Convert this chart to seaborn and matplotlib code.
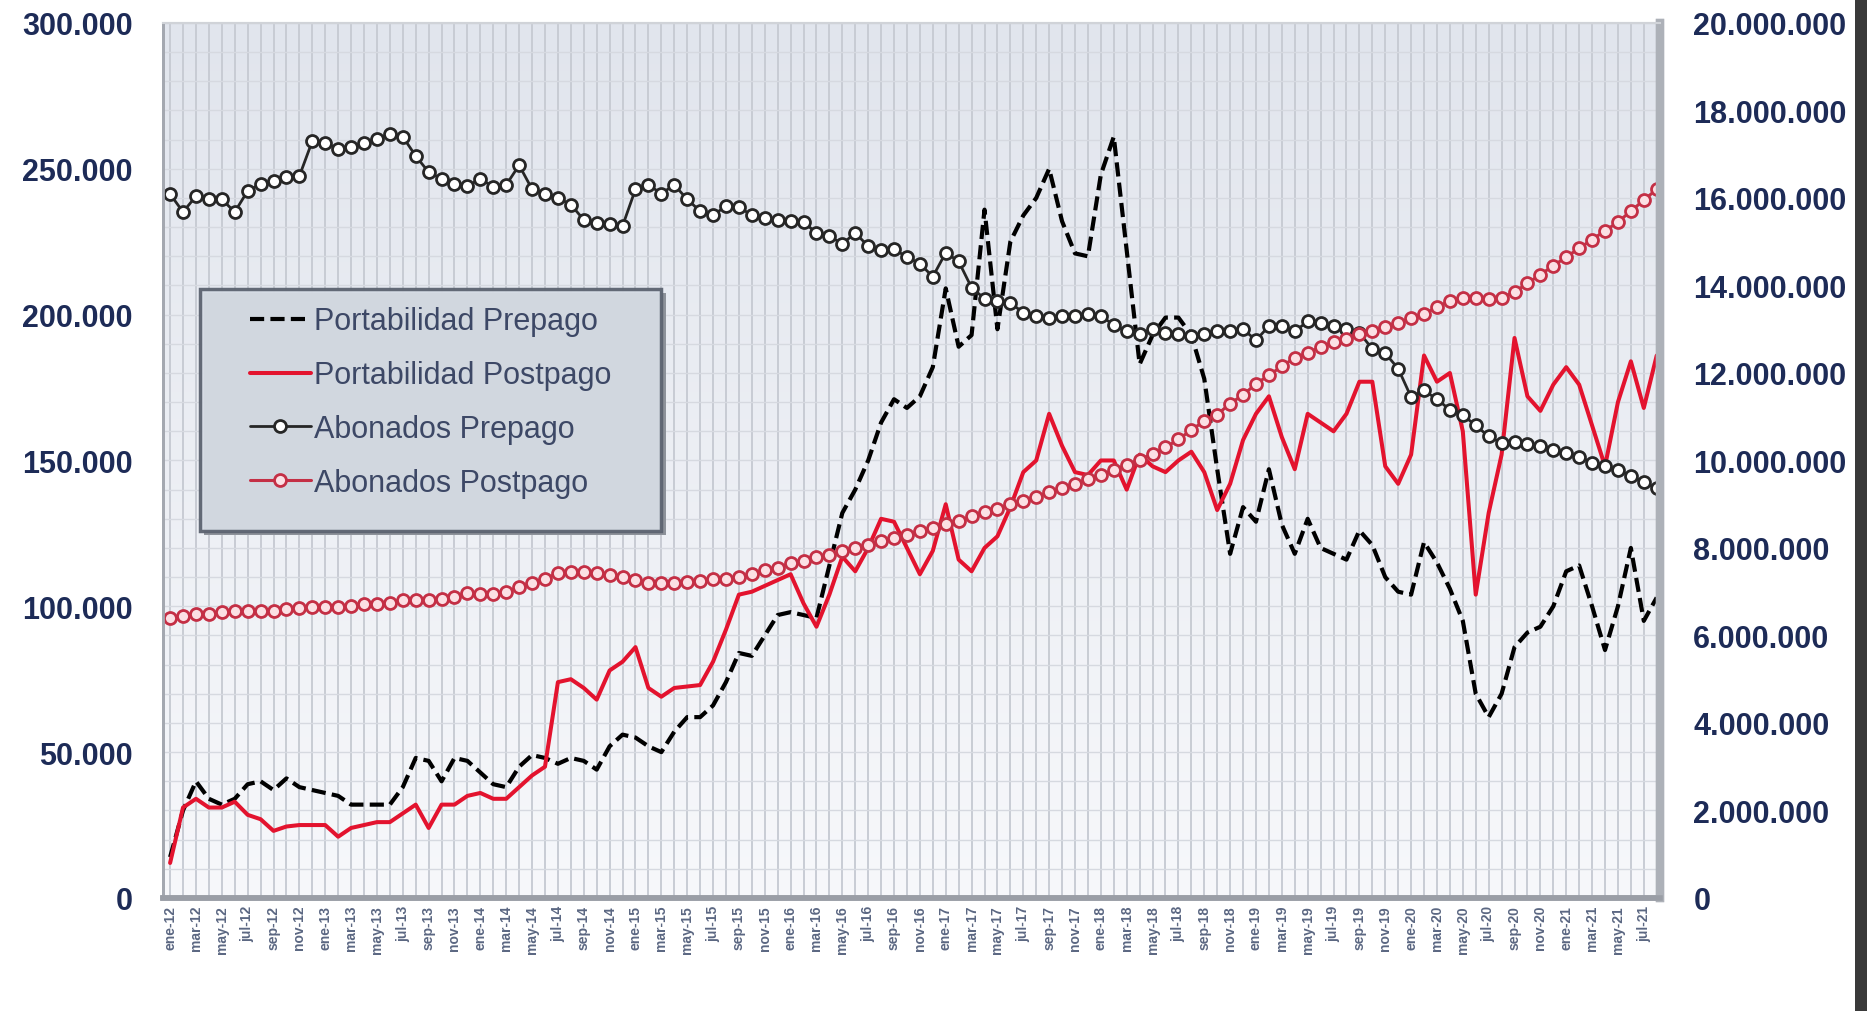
import numpy as np
import matplotlib
matplotlib.use("Agg")
import matplotlib.pyplot as plt
import seaborn as sns
from matplotlib.ticker import FuncFormatter, MultipleLocator
from matplotlib.patches import Rectangle
from matplotlib.colors import LinearSegmentedColormap

# monthly series, starting ene-12
meses = ['ene', 'feb', 'mar', 'abr', 'may', 'jun', 'jul', 'ago', 'sep', 'oct', 'nov', 'dic']

# Portabilidad (left axis)
port_prepago = [
    14000, 30000, 40000, 34000, 32000, 34000, 39000, 40000, 37000, 41000,
    38000, 37000, 36000, 35000, 32000, 32000, 32000, 32000, 38000, 48000,
    47000, 40000, 48000, 47000, 43000, 39000, 38000, 45000, 49000, 48000,
    46000, 48000, 47000, 44000, 52000, 56000, 55000, 52000, 50000, 57000,
    62000, 62000, 66000, 74000, 84000, 83000, 90000, 97000, 98000, 97000,
    96000, 114000, 132000, 140000, 150000, 163000, 171000, 168000, 172000, 182000,
    209000, 189000, 193000, 236000, 195000, 225000, 234000, 240000, 250000, 232000,
    221000, 220000, 248000, 261000, 222000, 183000, 193000, 199000, 199000, 193000,
    178000, 147000, 118000, 134000, 129000, 147000, 128000, 118000, 130000, 120000,
    118000, 116000, 126000, 121000, 110000, 105000, 104000, 122000, 115000, 106000,
    95000, 70000, 62000, 70000, 86000, 91000, 93000, 100000, 112000, 114000,
    100000, 85000, 100000, 120000, 95000, 103000,
]
port_postpago = [
    12000, 31000, 34000, 31000, 31000, 33000, 28500, 27000, 23000, 24500,
    25000, 25000, 25000, 21000, 24000, 25000, 26000, 26000, 29000, 32000,
    24000, 32000, 32000, 35000, 36000, 34000, 34000, 38000, 42000, 45000,
    74000, 75000, 72000, 68000, 78000, 81000, 86000, 72000, 69000, 72000,
    72500, 73000, 81000, 92000, 104000, 105000, 107000, 109000, 111000, 101000,
    93000, 104000, 117000, 112000, 120000, 130000, 129000, 120000, 111000, 119000,
    135000, 116000, 112000, 120000, 124000, 134000, 146000, 150000, 166000, 155000,
    146000, 145000, 150000, 150000, 140000, 152000, 148000, 146000, 150000, 153000,
    146000, 133000, 142000, 157000, 166000, 172000, 158000, 147000, 166000, 163000,
    160000, 166000, 177000, 177000, 148000, 142000, 152000, 186000, 177000, 180000,
    160000, 104000, 132000, 152000, 192000, 172000, 167000, 176000, 182000, 176000,
    162000, 148000, 170000, 184000, 168000, 186000,
]

# Abonados (right axis), millions
abon_prepago = [
    16.09, 15.68, 16.04, 15.97, 15.97, 15.68, 16.16, 16.32, 16.39, 16.48,
    16.50, 17.30, 17.26, 17.12, 17.16, 17.26, 17.35, 17.46, 17.40, 16.96,
    16.59, 16.44, 16.32, 16.27, 16.44, 16.25, 16.30, 16.75, 16.20, 16.10,
    16.00, 15.85, 15.50, 15.43, 15.40, 15.36, 16.20, 16.30, 16.10, 16.30,
    15.97, 15.70, 15.60, 15.82, 15.80, 15.60, 15.55, 15.50, 15.48, 15.45,
    15.20, 15.13, 14.95, 15.20, 14.90, 14.80, 14.83, 14.65, 14.50, 14.20,
    14.75, 14.55, 13.95, 13.70, 13.65, 13.60, 13.38, 13.30, 13.25, 13.30,
    13.30, 13.35, 13.30, 13.10, 12.95, 12.90, 13.00, 12.92, 12.88, 12.85,
    12.90, 12.95, 12.97, 13.00, 12.75, 13.07, 13.07, 12.95, 13.18, 13.15,
    13.07, 13.00, 12.92, 12.55, 12.45, 12.10, 11.45, 11.60, 11.40, 11.16,
    11.04, 10.80, 10.55, 10.40, 10.43, 10.38, 10.33, 10.25, 10.16, 10.08,
    9.95, 9.87, 9.78, 9.65, 9.50, 9.37,
]
abon_postpago = [
    6.40, 6.45, 6.48, 6.50, 6.53, 6.56, 6.57, 6.57, 6.57, 6.60,
    6.62, 6.65, 6.66, 6.66, 6.68, 6.72, 6.72, 6.75, 6.80, 6.80,
    6.82, 6.84, 6.88, 6.97, 6.95, 6.95, 7.00, 7.10, 7.20, 7.30,
    7.42, 7.45, 7.45, 7.43, 7.38, 7.33, 7.26, 7.20, 7.19, 7.20,
    7.22, 7.25, 7.28, 7.30, 7.33, 7.40, 7.49, 7.55, 7.65, 7.70,
    7.80, 7.85, 7.92, 8.00, 8.07, 8.15, 8.22, 8.30, 8.38, 8.46,
    8.55, 8.62, 8.72, 8.82, 8.90, 9.00, 9.08, 9.17, 9.27, 9.37,
    9.47, 9.57, 9.67, 9.78, 9.90, 10.02, 10.15, 10.30, 10.48, 10.70,
    10.90, 11.05, 11.30, 11.50, 11.75, 11.95, 12.15, 12.35, 12.45, 12.60,
    12.70, 12.78, 12.88, 12.95, 13.05, 13.15, 13.25, 13.35, 13.50, 13.65,
    13.72, 13.72, 13.70, 13.72, 13.85, 14.05, 14.25, 14.45, 14.65, 14.85,
    15.05, 15.25, 15.45, 15.70, 15.95, 16.20,
]

n = len(port_prepago)
idx = np.arange(n)
etiquetas = [f"{meses[i % 12]}-{12 + i // 12}" for i in idx]

sns.set_style("white")
plt.rcParams['font.family'] = ['Liberation Sans', 'DejaVu Sans']

fig = plt.figure(figsize=(18.67, 10.12), dpi=100)
ax = fig.add_axes([0.0873, 0.1117, 0.8018, 0.8646])
ax2 = ax.twinx()

# gradient background of the plot area
bg = LinearSegmentedColormap.from_list('bg', ['#f7f8fb', '#e1e5ed'])
ax.imshow(np.linspace(0, 1, 256).reshape(-1, 1), extent=[0, 1, 0, 1],
          transform=ax.transAxes, cmap=bg, aspect='auto', origin='lower', zorder=0)

sns.lineplot(x=idx, y=port_prepago, ax=ax, color='black', lw=3.0, linestyle=(0, (3.4, 1.5)),
             label='Portabilidad Prepago', legend=False)
sns.lineplot(x=idx, y=port_postpago, ax=ax, color='#e3132e', lw=2.9,
             label='Portabilidad Postpago', legend=False)
sns.lineplot(x=idx, y=np.array(abon_prepago) * 1e6, ax=ax2, color='#262626', lw=2.0,
             marker='o', ms=8.6, mfc='white', mec='#262626', mew=2.0,
             label='Abonados Prepago', legend=False)
sns.lineplot(x=idx, y=np.array(abon_postpago) * 1e6, ax=ax2, color='#c42f45', lw=2.2,
             marker='o', ms=8.6, mfc='#fbe0e4', mec='#c42f45', mew=2.0,
             label='Abonados Postpago', legend=False)

ax.set_xlim(-0.55, n - 0.75)
ax.set_ylim(0, 300000)
ax2.set_ylim(0, 20000000)

# grid: one vertical line per month, horizontal every 10.000
ax.set_xticks(idx[::2])
ax.set_xticks(idx, minor=True)
ax.yaxis.set_major_locator(MultipleLocator(50000))
ax.yaxis.set_minor_locator(MultipleLocator(10000))
ax2.yaxis.set_major_locator(MultipleLocator(2000000))
ax.set_axisbelow(True)
ax.grid(which='both', axis='x', color='#c8ccd4', lw=1.4)
ax.grid(which='both', axis='y', color='#d6d9e0', lw=1.0)

fmt = FuncFormatter(lambda v, _: f"{int(round(v)):,}".replace(',', '.'))
ax.yaxis.set_major_formatter(fmt)
ax2.yaxis.set_major_formatter(fmt)

tick_col = '#1d2b57'
ax.tick_params(axis='y', which='both', length=0, pad=22, labelsize=22, labelcolor=tick_col)
ax2.tick_params(axis='y', which='both', length=0, pad=24, labelsize=22, labelcolor=tick_col)
for lab in ax.get_yticklabels() + ax2.get_yticklabels():
    lab.set_fontweight('bold')
ax.set_xticklabels(etiquetas[::2], rotation=90, fontsize=10, fontweight='bold', color='#5b6782')
ax.tick_params(axis='x', which='both', length=0, pad=5)
ax.set_xlabel('')
ax.set_ylabel('')
ax2.set_ylabel('')

for a in (ax, ax2):
    a.spines['top'].set_color('#d0d3d8')
    a.spines['top'].set_linewidth(1.5)
    a.spines['left'].set_color('#a4a8b0')
    a.spines['left'].set_linewidth(2)
    a.spines['bottom'].set_color('#9a9ea6')
    a.spines['bottom'].set_linewidth(4)
    a.spines['right'].set_color('#adb1b8')
    a.spines['right'].set_linewidth(6)

# legend box drawn by hand, legend entries on top
x0, x1, y0, y1 = 0.0247, 0.3327, 0.4194, 0.696
ax2.add_patch(Rectangle((x0 + 0.003, y0 - 0.005), x1 - x0, y1 - y0, transform=ax2.transAxes,
                        facecolor='#8d929a', edgecolor='none', zorder=9))
ax2.add_patch(Rectangle((x0, y0), x1 - x0, y1 - y0, transform=ax2.transAxes,
                        facecolor='#d5dbe4', edgecolor='#5c6370', lw=2.5, alpha=0.95, zorder=10))
h1, l1 = ax.get_legend_handles_labels()
h2, l2 = ax2.get_legend_handles_labels()
leg = ax2.legend(h1 + h2, l1 + l2, loc='upper left', bbox_to_anchor=(0.058, 0.676),
                 frameon=False, fontsize=22, handlelength=2.0, handletextpad=0.1,
                 labelspacing=0.78, borderpad=0, borderaxespad=0)
leg.set_zorder(11)
for t in leg.get_texts():
    t.set_color('#3d4866')

# dark edge on the right side of the picture
fig.add_artist(Rectangle((1855 / 1867, 0), 12 / 1867, 1, transform=fig.transFigure,
                         facecolor='#3a3a3a', edgecolor='none'))

fig.savefig('out.png', dpi=100)
plt.close(fig)
